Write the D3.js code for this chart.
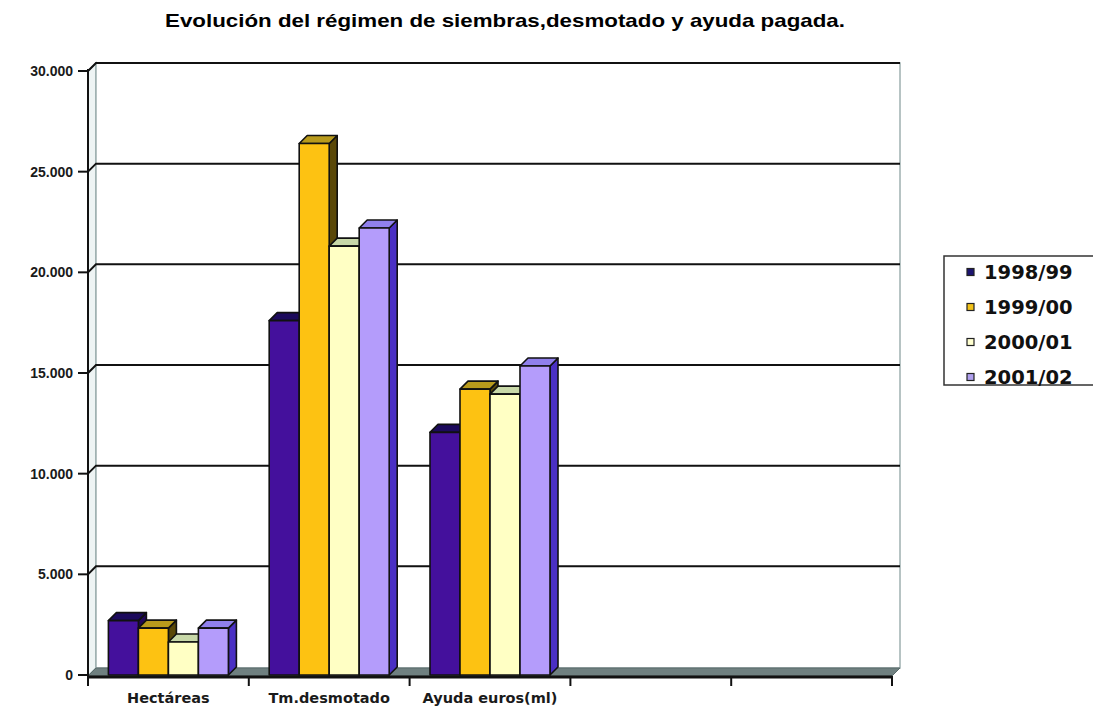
<!DOCTYPE html>
<html>
<head>
<meta charset="utf-8">
<script src="https://cdn.jsdelivr.net/npm/d3@7"></script>
<style>
  body { margin: 0; background: #fff; }
  svg { display: block; font-family: "Liberation Sans", Arial, sans-serif; }
</style>
</head>
<body>
<div id="chart"></div>
<script>
// datos del gráfico
const categories = ["Hectáreas", "Tm.desmotado", "Ayuda euros(ml)", "", " "];
const seriesNames = ["1998/99", "1999/00", "2000/01", "2001/02"];
const v1998 = [2700, 17600, 12050];
const v1999 = [2330, 26400, 14200];
const v2000 = [1640, 21300, 13950];
const v2001 = [2330, 22200, 15350];
const yTicks = [0, 5000, 10000, 15000, 20000, 25000, 30000];
const yTickLabels = ["0", "5.000", "10.000", "15.000", "20.000", "25.000", "30.000"];

const seriesValues = [v1998, v1999, v2000, v2001];
// caras: frontal, lateral, superior
const palette = [
  { front: "#44109c", side: "#22085a", top: "#1c0a5c" },
  { front: "#fdc212", side: "#5a4808", top: "#b89a1c" },
  { front: "#ffffc4", side: "#a8b48a", top: "#c8d8a8" },
  { front: "#b49cfb", side: "#4a30c4", top: "#9080ec" }
];
const legendFill = ["#1c1470", "#f2c21a", "#ffffd0", "#b0a0ee"];

const width = 1093, height = 709;
const svg = d3.select("#chart").append("svg")
  .attr("width", width).attr("height", height);

const plotLeft = 88, plotRight = 892, plotTop = 71, plotBottom = 676;
const dx = 8, dy = -8; // profundidad 3D

const x = d3.scaleBand().domain(categories).range([plotLeft, plotRight]);
const xs = d3.scaleBand().domain(seriesNames).range([0, x.bandwidth()])
  .paddingInner(0).paddingOuter(0.68);
const y = d3.scaleLinear().domain([0, 30000]).range([plotBottom - 1, plotTop]);

// título
svg.append("text")
  .attr("x", 505).attr("y", 27)
  .attr("text-anchor", "middle")
  .style("font-size", "19px").style("font-weight", "bold")
  .attr("textLength", 680).attr("lengthAdjust", "spacingAndGlyphs")
  .text("Evolución del régimen de siembras,desmotado y ayuda pagada.");

// pared izquierda y pared de fondo
svg.append("path")
  .attr("d", `M${plotLeft},${y(30000)} L${plotLeft + dx},${y(30000) + dy} L${plotLeft + dx},${plotBottom + dy} L${plotLeft},${plotBottom} Z`)
  .attr("fill", "#eef4f4").attr("stroke", "#8fa6a6").attr("stroke-width", 1.5);
svg.append("rect")
  .attr("x", plotLeft + dx).attr("y", y(30000) + dy)
  .attr("width", plotRight - plotLeft).attr("height", plotBottom - y(30000))
  .attr("fill", "#fff").attr("stroke", "#9fb0b0").attr("stroke-width", 1.5);

// suelo
svg.append("path")
  .attr("d", `M${plotLeft},${plotBottom} L${plotLeft + dx},${plotBottom + dy} L${plotRight + dx},${plotBottom + dy} L${plotRight},${plotBottom} Z`)
  .attr("fill", "#6f8080").attr("stroke", "#5a6a6a");

// líneas de división
yTicks.forEach(t => {
  if (t === 0) return;
  const yy = y(t);
  svg.append("path")
    .attr("d", `M${plotLeft},${yy} L${plotLeft + dx},${yy + dy} L${plotRight + dx},${yy + dy}`)
    .attr("fill", "none").attr("stroke", "#111").attr("stroke-width", 2);
});

// barras 3D
const bw = xs.bandwidth();
seriesValues.forEach((vals, si) => {
  const c = palette[si];
  vals.forEach((v, ci) => {
    const x0 = x(categories[ci]) + xs(seriesNames[si]);
    const x1 = x0 + bw;
    const y0 = y(0), y1 = y(v);
    const g = svg.append("g").attr("stroke", "#111").attr("stroke-width", 1.6)
      .attr("stroke-linejoin", "round");
    g.append("path")
      .attr("d", `M${x1},${y0} L${x1 + dx},${y0 + dy} L${x1 + dx},${y1 + dy} L${x1},${y1} Z`)
      .attr("fill", c.side);
    g.append("path")
      .attr("d", `M${x0},${y1} L${x0 + dx},${y1 + dy} L${x1 + dx},${y1 + dy} L${x1},${y1} Z`)
      .attr("fill", c.top);
    g.append("rect")
      .attr("x", x0).attr("y", y1).attr("width", bw).attr("height", y0 - y1)
      .attr("fill", c.front);
  });
});

// eje Y
svg.append("line")
  .attr("x1", plotLeft).attr("x2", plotLeft).attr("y1", y(30000) - 2).attr("y2", plotBottom + 6)
  .attr("stroke", "#111").attr("stroke-width", 2);
yTicks.forEach((t, i) => {
  svg.append("line")
    .attr("x1", plotLeft - 10).attr("x2", plotLeft).attr("y1", y(t)).attr("y2", y(t))
    .attr("stroke", "#111").attr("stroke-width", 2);
  svg.append("text")
    .attr("x", plotLeft - 15).attr("y", y(t)).attr("dy", "0.36em")
    .attr("text-anchor", "end")
    .style("font-size", "14px").style("font-weight", "bold").style("fill", "#1a1a1a")
    .text(yTickLabels[i]);
});

// eje X
svg.append("line")
  .attr("x1", plotLeft).attr("x2", plotRight).attr("y1", plotBottom + 1).attr("y2", plotBottom + 1)
  .attr("stroke", "#111").attr("stroke-width", 3);
const xTickPos = categories.map(d => x(d)).concat([plotRight]);
xTickPos.forEach(p => {
  svg.append("line")
    .attr("x1", p).attr("x2", p).attr("y1", plotBottom).attr("y2", plotBottom + 10)
    .attr("stroke", "#111").attr("stroke-width", 2);
});
categories.forEach(c => {
  svg.append("text")
    .attr("x", x(c) + x.bandwidth() / 2).attr("y", 703)
    .attr("text-anchor", "middle")
    .style("font-family", "'DejaVu Sans', sans-serif")
    .style("font-size", "14.5px").style("font-weight", "bold").style("fill", "#1a1a1a")
    .text(c);
});

// leyenda
const legend = svg.append("g");
legend.append("rect")
  .attr("x", 944).attr("y", 256).attr("width", 160).attr("height", 129)
  .attr("fill", "#fff").attr("stroke", "#333").attr("stroke-width", 1.5);
seriesNames.forEach((s, i) => {
  const ly = 272 + i * 35;
  legend.append("rect")
    .attr("x", 967).attr("y", ly - 3.5).attr("width", 7).attr("height", 7)
    .attr("fill", legendFill[i]).attr("stroke", "#222").attr("stroke-width", 1.2);
  legend.append("text")
    .attr("x", 984).attr("y", ly).attr("dy", "0.36em")
    .style("font-family", "'DejaVu Sans', sans-serif")
    .style("font-size", "19.5px").style("font-weight", "bold").style("fill", "#111")
    .text(s);
});
</script>
</body>
</html>
